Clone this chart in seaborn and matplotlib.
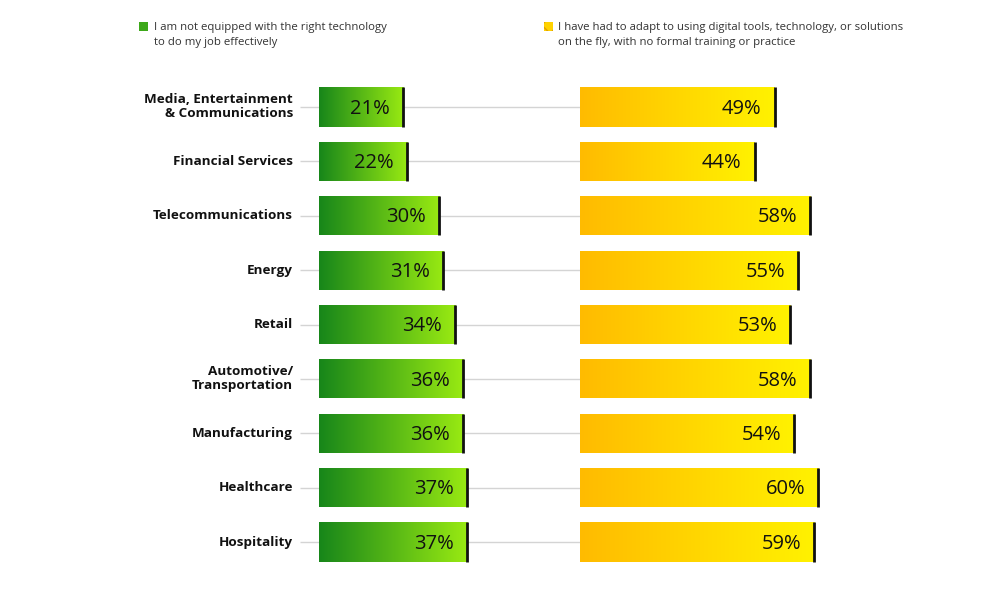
import numpy as np
import pandas as pd
import matplotlib
matplotlib.use('Agg')
import matplotlib.pyplot as plt
from matplotlib.colors import LinearSegmentedColormap
from matplotlib.patches import Rectangle
import seaborn as sns

industries = ['Media, Entertainment\n& Communications', 'Financial Services', 'Telecommunications',
              'Energy', 'Retail', 'Automotive/\nTransportation', 'Manufacturing', 'Healthcare', 'Hospitality']
not_equipped = [21, 22, 30, 31, 34, 36, 36, 37, 37]
adapted = [49, 44, 58, 55, 53, 58, 54, 60, 59]
legend_labels = ['I am not equipped with the right technology\nto do my job effectively',
                 'I have had to adapt to using digital tools, technology, or solutions\non the fly, with no formal training or practice']

df = pd.DataFrame({'industry': industries, 'not_equipped': not_equipped, 'adapted': adapted})

sns.set_theme(style='white')
plt.rcParams['font.family'] = ['Open Sans', 'DejaVu Sans']

green = LinearSegmentedColormap.from_list('g', ['#17861a', '#99ea12'])
yellow = LinearSegmentedColormap.from_list('y', ['#ffbb00', '#fff200'])

fig = plt.figure(figsize=(10, 6), dpi=100)
axL = fig.add_axes([0.319, 0.0513, 0.261, 0.8157])
axR = fig.add_axes([0.580, 0.0513, 0.261, 0.8157])

for ax, col, cmap, xmax in [(axL, 'not_equipped', green, 65.25), (axR, 'adapted', yellow, 65.75)]:
    sns.barplot(data=df, x=col, y='industry', orient='h', ax=ax, width=0.72,
                color='#888888', zorder=2)
    grad = np.linspace(0, 1, 256).reshape(1, -1)
    for bar in list(ax.patches):
        x0, y0, w, h = bar.get_x(), bar.get_y(), bar.get_width(), bar.get_height()
        im = ax.imshow(grad, cmap=cmap, extent=[x0, x0 + w, y0 + h, y0],
                       aspect='auto', zorder=2, interpolation='bicubic')
        im.set_clip_path(bar)
        bar.set_facecolor('none')
        bar.set_edgecolor('none')
    for i, v in enumerate(df[col]):
        ax.vlines(v, i - 0.36, i + 0.36, color='#111111', lw=2, zorder=3)
        ax.text(v - 3.3, i + 0.03, f'{v}%', ha='right', va='center', fontsize=14.5,
                color='#111111', zorder=4)
    ax.set_xlim(0, xmax)
    ax.set_ylim(8.5, -0.5)
    ax.axis('off')

for i, name in enumerate(industries):
    axL.hlines(i, -4.75, 65.25, color='#d4d4d4', lw=1, zorder=0, clip_on=False)
    axL.text(-6.5, i, name, ha='right', va='center', fontsize=9.7, fontweight='bold',
             color='#111111', linespacing=1.1)

fig.patches.append(Rectangle((0.139, 0.9485), 0.0085, 0.0145, transform=fig.transFigure,
                             facecolor='#3da81a', edgecolor='none'))
fig.patches.append(Rectangle((0.544, 0.9485), 0.0085, 0.0145, transform=fig.transFigure,
                             facecolor='#ffd200', edgecolor='#e0a000', hatch='xx', lw=0))
fig.text(0.154, 0.963, legend_labels[0], ha='left', va='top', fontsize=8.2, color='#333333', linespacing=1.5)
fig.text(0.558, 0.963, legend_labels[1], ha='left', va='top', fontsize=8.2, color='#333333', linespacing=1.5)

fig.savefig('out.png', dpi=100)
